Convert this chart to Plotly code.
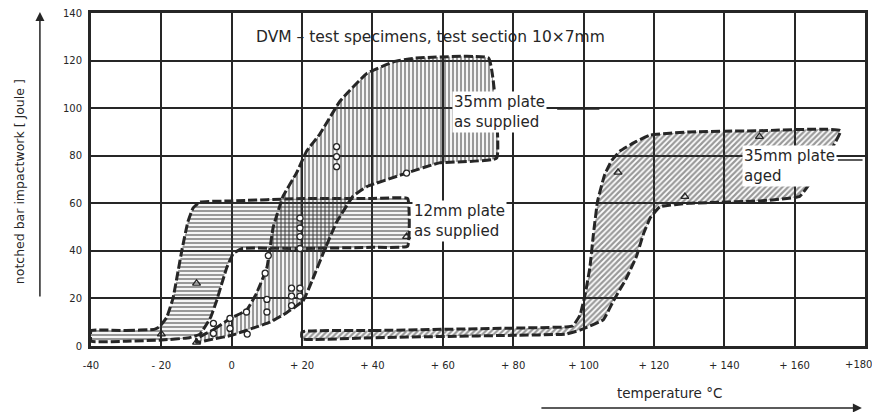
import plotly.graph_objects as go

# ---- data ----
x_ticks = [-40, -20, 0, 20, 40, 60, 80, 100, 120, 140, 160, 180]
x_tick_labels = ["-40", "- 20", "0", "+ 20", "+ 40", "+ 60", "+ 80", "+ 100", "+ 120", "+ 140", "+ 160", "+180"]
y_ticks = [0, 20, 40, 60, 80, 100, 120, 140]
y_tick_labels = ["0", "20", "40", "60", "80", "100", "120", "140"]

# 12 mm plate as supplied (upper / lower scatter band limits)
t12_up = [-40, -30, -22, -20.6, -18.5, -16.7, -14.2, -12.5, -11, -9, 0, 20, 40, 50]
e12_up = [6.5, 6.5, 7, 8, 12, 20, 40, 52, 58, 60.5, 61, 62, 62, 62]
t12_lo = [-40, -30, -20, -12, -9, -6, -4.3, -1.4, 0.5, 3, 20, 40, 50]
e12_lo = [2, 2, 2.5, 3.5, 5, 12, 19, 33, 39, 41, 41, 41.5, 42]

# 35 mm plate as supplied
t35_up = [-10, -5, -0.5, 4.2, 7, 10, 11.8, 14.6, 18.5, 21.3, 25, 30.8, 38.4, 46, 52, 73]
e35_up = [3, 7, 11.5, 15, 22, 33, 50, 63, 73, 82, 89, 103, 114.6, 119.5, 121, 121]
t35_lo = [-10, -5, 0, 6, 10.9, 15.6, 20.3, 23, 26, 29.8, 34.5, 38.4, 49.7, 59, 75.3]
e35_lo = [1.5, 3, 4.5, 7.5, 10, 14, 19, 28, 39, 52, 63, 67, 72.7, 77, 79]

# 35 mm plate aged
tag_up = [20, 40, 60, 80, 95, 97, 99, 100.5, 101.8, 102.8, 104, 106, 108, 110.4, 115, 119, 130, 150, 173]
eag_up = [6, 6.5, 7, 7.5, 8, 8.5, 13, 22, 33, 47, 61, 72, 78, 82, 86, 88.7, 90, 90.5, 90.5]
tag_lo = [20, 40, 60, 80, 95, 99, 105.6, 108.5, 112, 115, 117, 119, 121.7, 130, 150, 161.5]
eag_lo = [3, 3.5, 4, 4.5, 5, 6.7, 11, 19, 28, 37.5, 47, 54, 58.5, 60, 61, 63]

# individual test results
circ_t = [-5.2, -5.2, -0.5, -0.5, 4.2, 4.4, 10, 10, 9.5, 10.4, 17, 19.4, 17, 19.4, 17,
          19.4, 19.4, 19.4, 19.4, 29.8, 29.8, 29.8, 49.7]
circ_e = [9.5, 5.3, 11.6, 7.4, 14.3, 5, 19.6, 14.3, 30.6, 38, 24.3, 24.3, 21, 21, 17,
          53.8, 49.6, 46, 41, 83.8, 79.6, 75.4, 72.7]
tri_t = [-10, -10, -20, 49.7, 109.8, 150, 128.8]
tri_e = [26.3, 1.5, 5, 46, 73, 88, 62.8]

INK = "#262626"
FONT = "DejaVu Sans"


def band(t_up, e_up, t_lo, e_lo):
    xs = list(t_up) + list(reversed(t_lo)) + [t_up[0]]
    ys = list(e_up) + list(reversed(e_lo)) + [e_up[0]]
    return xs, ys


fig = go.Figure()

for (tu, eu, tl, el, shape, name) in [
    (tag_up, eag_up, tag_lo, eag_lo, "/", "35mm plate aged"),
    (t12_up, e12_up, t12_lo, e12_lo, "-", "12mm plate as supplied"),
    (t35_up, e35_up, t35_lo, e35_lo, "|", "35mm plate as supplied"),
]:
    xs, ys = band(tu, eu, tl, el)
    fig.add_trace(go.Scatter(
        x=xs, y=ys, mode="lines", fill="toself", name=name,
        line=dict(color=INK, width=3, dash="9px,3px", shape="spline", smoothing=0.3),
        fillcolor="rgba(255,255,255,0)",
        fillpattern=dict(shape=shape, fgcolor="#333333", bgcolor="rgba(255,255,255,0)",
                         size=4, solidity=0.55),
        hoverinfo="skip", showlegend=False,
    ))

fig.add_trace(go.Scatter(
    x=circ_t, y=circ_e, mode="markers", showlegend=False,
    marker=dict(symbol="circle", size=6, color="white", line=dict(color=INK, width=1.3)),
))
fig.add_trace(go.Scatter(
    x=tri_t, y=tri_e, mode="markers", showlegend=False,
    marker=dict(symbol="triangle-up-open", size=7, color=INK, line=dict(width=1.3)),
))

annots = [
    dict(x=56.6, y=129.9, text="DVM – test specimens, test section 10×7mm",
         xanchor="center", font=dict(size=15.5)),
    dict(x=62.6, y=98.5, text="35mm plate<br>as supplied", xanchor="left",
         align="left", bgcolor="white", font=dict(size=15)),
    dict(x=51.3, y=52.5, text="12mm plate<br>as supplied", xanchor="left",
         align="left", bgcolor="white", font=dict(size=15)),
    dict(x=145.0, y=75.5, text="35mm plate<br>aged", xanchor="left",
         align="left", bgcolor="white", font=dict(size=15)),
]
for a in annots:
    a.update(xref="x", yref="y", showarrow=False, yanchor="middle")
    a["font"].update(family=FONT, color=INK)
    fig.add_annotation(**a)

# the last x tick label sits at the right edge of the page: drawn separately so it stays inside
fig.add_annotation(xref="x", yref="paper", x=x_ticks[-1], y=-0.057, xshift=-7,
                   xanchor="center", yanchor="middle", text=x_tick_labels[-1],
                   showarrow=False, font=dict(family=FONT, size=10, color=INK))
x_tick_text_axis = x_tick_labels[:-1] + [""]

# axis titles and arrows
fig.add_annotation(xref="paper", yref="paper", x=-0.0915, y=0.4925, textangle=-90,
                   xanchor="center", yanchor="middle",
                   text="notched bar impactwork [ Joule ]", showarrow=False,
                   font=dict(family=FONT, size=12.5, color=INK))
fig.add_annotation(xref="paper", yref="paper", x=0.748, y=-0.141,
                   xanchor="center", yanchor="middle",
                   text="temperature °C", showarrow=False,
                   font=dict(family=FONT, size=13.5, color=INK))
fig.add_annotation(xref="paper", yref="paper", x=-0.066, y=1.003, ax=0, ay=286,
                   axref="pixel", ayref="pixel", text="", showarrow=True,
                   arrowhead=2, arrowsize=1.2, arrowwidth=1.5, arrowcolor=INK)
fig.add_annotation(xref="paper", yref="paper", x=0.996, y=-0.186, ax=-322, ay=0,
                   axref="pixel", ayref="pixel", text="", showarrow=True,
                   arrowhead=2, arrowsize=1.2, arrowwidth=1.5, arrowcolor=INK)

# leader lines next to labels
fig.add_shape(type="line", xref="x", yref="y", x0=92.5, x1=104.5, y0=99.6, y1=99.6,
              line=dict(color=INK, width=1.5))
fig.add_shape(type="line", xref="x", yref="y", x0=172.3, x1=179.3, y0=78.2, y1=78.2,
              line=dict(color=INK, width=1.5))

fig.update_layout(
    width=872, height=412,
    margin=dict(l=91, r=7, t=13, b=66, autoexpand=False),
    paper_bgcolor="white", plot_bgcolor="white",
    font=dict(family=FONT, color=INK),
    showlegend=False,
)
fig.update_xaxes(range=[-40, 180], tickvals=x_ticks, ticktext=x_tick_text_axis,
                 showgrid=True, gridcolor=INK, gridwidth=1.6, zeroline=False,
                 showline=True, linecolor=INK, linewidth=3, mirror=True, automargin=False,
                 ticks="", ticklabelstandoff=8, ticklabeloverflow="allow",
                 tickfont=dict(size=10, family=FONT, color=INK))
fig.update_yaxes(range=[0, 140], tickvals=y_ticks, ticktext=y_tick_labels,
                 showgrid=True, gridcolor=INK, gridwidth=1.6, zeroline=False,
                 showline=True, linecolor=INK, linewidth=3, mirror=True, automargin=False,
                 ticks="", ticklabelstandoff=4, ticklabeloverflow="allow",
                 tickfont=dict(size=10, family=FONT, color=INK))

fig.write_html("out.html")
